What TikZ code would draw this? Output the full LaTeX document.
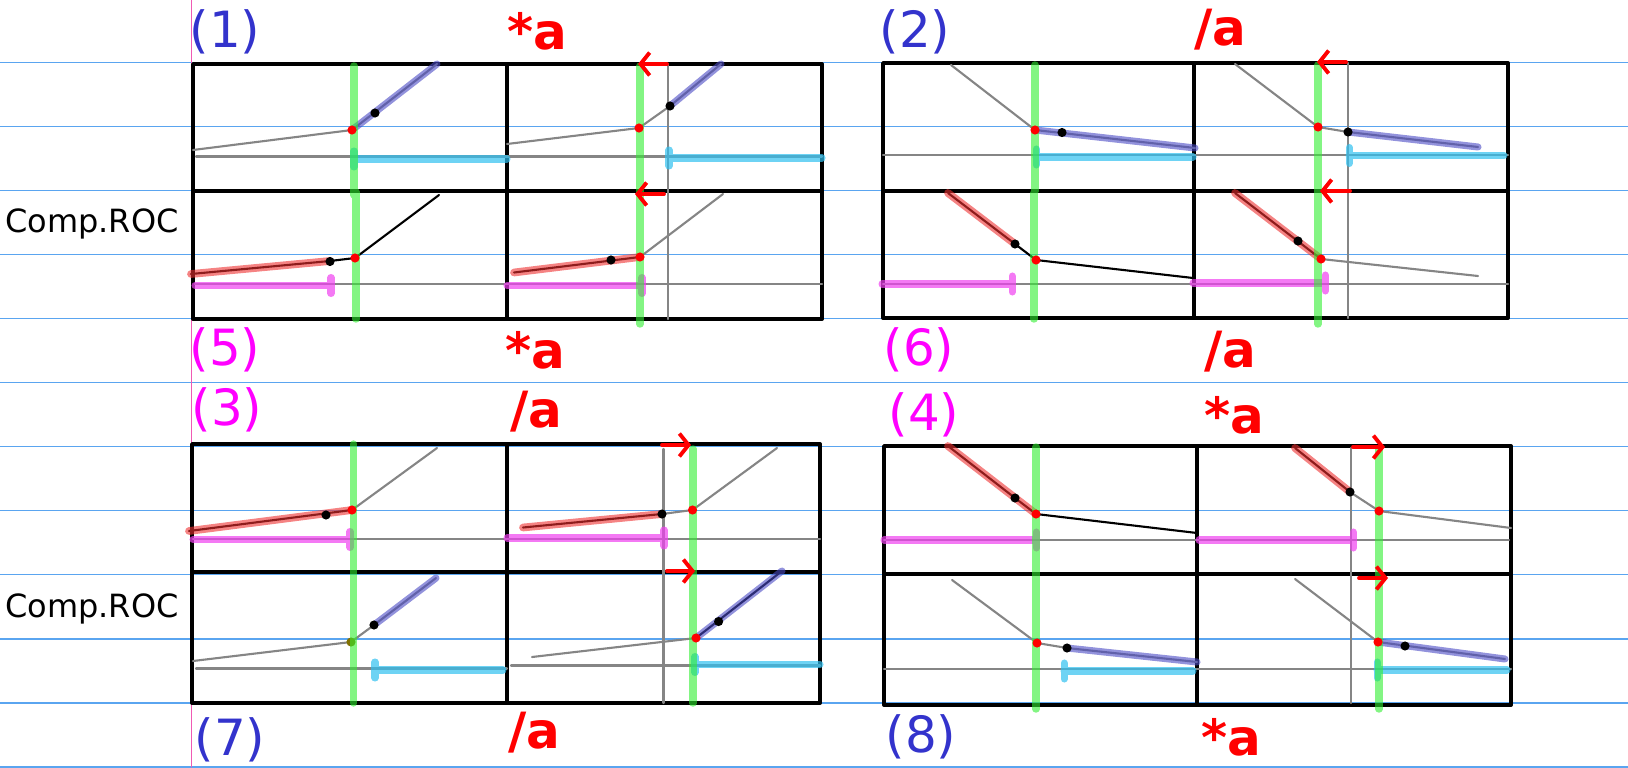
\documentclass[tikz,border=0pt]{standalone}
\usepackage{fontspec}
\setmainfont{DejaVu Sans}
\usetikzlibrary{arrows.meta}
\definecolor{raya}{HTML}{5AA5F0}
\definecolor{margen}{HTML}{F05AB4}
\definecolor{azulnum}{HTML}{3333CC}
\definecolor{rosanum}{HTML}{FF00FF}
\definecolor{rojo}{HTML}{FF0000}
\definecolor{hazul}{HTML}{4A4AC4}
\definecolor{hcian}{HTML}{30C0F0}
\definecolor{hrojo}{HTML}{EE3030}
\definecolor{hrosa}{HTML}{F040F0}
\definecolor{hverde}{HTML}{30EE30}
\definecolor{trazo}{HTML}{858585}
\definecolor{oliva}{HTML}{807000}

\begin{document}
\begin{tikzpicture}[x=0.01cm, y=-0.01cm, line cap=round, line join=round,
  raya/.style={draw=raya, line width=0.45pt},
  marco/.style={draw=black, line width=1.1pt, line cap=butt},
  gris/.style={draw=trazo, line width=0.6pt},
  negro/.style={draw=black, line width=0.6pt},
  azul/.style={draw=hazul, draw opacity=0.6, line width=2pt},
  cian/.style={draw=hcian, draw opacity=0.7, line width=2pt},
  rojoh/.style={draw=hrojo, draw opacity=0.6, line width=2.2pt},
  rosa/.style={draw=hrosa, draw opacity=0.7, line width=2pt},
  verde/.style={draw=hverde, draw opacity=0.6, line width=2.1pt},
  flecha/.style={draw=rojo, line width=1.1pt, -{Straight Barb[length=2.6pt,width=6.5pt]}},
  num/.style={inner sep=0pt, font=\fontsize{14.2}{17}\selectfont},
  op/.style={inner sep=0pt, text=rojo, font=\fontsize{14.2}{17}\selectfont\bfseries},
  roc/.style={inner sep=0pt, anchor=base west, font=\fontsize{9.1}{11}\selectfont}]
  \useasboundingbox (0,0) rectangle (1628,767);

  % las rayas del cuaderno y el margen
  \foreach \y in {62.7,126.7,...,766.7}
    \draw[raya] (0,\y) -- (1628,\y);
  \draw[margen, line width=0.3pt] (191.7,0) -- (191.7,767);

  % los marcos, cuatro grupos de cuatro
  \foreach \xa/\xb/\xc/\ya/\yb/\yc in {193/507/822/64/191/319, 883/1194/1508/63/191/318,
      192/507/820/444/572/703, 884/1197/1511/446/574/705}
    \draw[marco] (\xa,\ya) rectangle (\xb,\yb) (\xb,\ya) rectangle (\xc,\yb)
      (\xa,\yb) rectangle (\xb,\yc) (\xb,\yb) rectangle (\xc,\yc);

  % (1) y (5)
  \draw[gris] (196,156.5) -- (822,156.5) (195,284) -- (822,284) (668,64) -- (668,319);
  \draw[gris] (193,150) -- (352,130) -- (437,64);
  \draw[azul] (352,130) -- (437,64);
  \draw[gris] (507,144) -- (639,128) -- (670,106) -- (721,64);
  \draw[azul] (670,106) -- (721,64);
  \draw[cian] (354,159) -- (507,159) (354,151) -- (354,167);
  \draw[cian] (669,158) -- (822,158) (669,150) -- (669,166);
  \draw[negro] (191,274) -- (330,261) -- (355,258) -- (439,195);
  \draw[rojoh] (191,274) -- (330,261);
  \draw[rosa] (195,285.5) -- (331,285.5) (331,277.5) -- (331,293.5);
  \draw[negro] (514,272.5) -- (640,257);
  \draw[gris] (640,257) -- (723,194);
  \draw[rojoh] (514,272.5) -- (640,257);
  \draw[rosa] (507,285.5) -- (642,285.5) (642,277.5) -- (642,293.5);
  \draw[verde] (354,66) -- (354,195) (356,192) -- (356,319) (640,66) -- (640,324);
  \foreach \p in {(375,113),(670,106),(330,261.5),(611,260)}
    \fill \p circle (1.3pt);
  \foreach \p in {(352,130),(639,128),(355,258),(640,257)}
    \fill[rojo] \p circle (1.3pt);
  \draw[flecha] (667,64) -- (638,64);
  \draw[flecha] (664,194) -- (635,194);

  % (2) y (6)
  \draw[gris] (883,155) -- (1508,155) (883,284) -- (1508,284) (1348,63) -- (1348,318);
  \draw[gris] (951,65) -- (1035,130) -- (1195,148);
  \draw[azul] (1035,130) -- (1195,148);
  \draw[cian] (1036,157) -- (1193,157) (1036,149) -- (1036,165);
  \draw[gris] (1235,64) -- (1318,127) -- (1348,132) -- (1478,147);
  \draw[azul] (1348,132) -- (1478,147);
  \draw[cian] (1349,155.5) -- (1504,155.5) (1349,147.5) -- (1349,163.5);
  \draw[negro] (948,193) -- (1015,244) -- (1036,260) -- (1193,278);
  \draw[rojoh] (948,193) -- (1015,244);
  \draw[rosa] (882,284) -- (1012,284) (1012,276) -- (1012,292);
  \draw[negro] (1235,193) -- (1321,259);
  \draw[gris] (1321,259) -- (1478,276);
  \draw[rojoh] (1235,193) -- (1321,259);
  \draw[rosa] (1193,283) -- (1325,283) (1325,275) -- (1325,291);
  \draw[verde] (1035,65) -- (1035,191) (1034,193) -- (1034,319) (1318,65) -- (1318,324);
  \foreach \p in {(1062,132.5),(1348,132),(1015,244),(1298,241)}
    \fill \p circle (1.3pt);
  \foreach \p in {(1035,130),(1318,127),(1036,260),(1321,259)}
    \fill[rojo] \p circle (1.3pt);
  \draw[flecha] (1346,62) -- (1317,62);
  \draw[flecha] (1350,191) -- (1320,191);

  % (3) y (7)
  \draw[gris] (193,539) -- (820,539) (196,668.5) -- (507,668.5) (511,665.5) -- (820,665.5)
    (663.5,449) -- (663.5,703);
  \draw[negro] (189,531) -- (352,510);
  \draw[gris] (352,510) -- (437,448);
  \draw[rojoh] (189,531) -- (352,510);
  \draw[rosa] (193,539.5) -- (350,539.5) (350,531.5) -- (350,547.5);
  \draw[negro] (523,527.5) -- (662,514);
  \draw[gris] (662,514) -- (692.5,510) -- (777,448);
  \draw[rojoh] (523,527.5) -- (662,514);
  \draw[rosa] (507,538) -- (664,538) (664,530) -- (664,546);
  \draw[gris] (193,661) -- (351,642) -- (374,625) -- (436,578);
  \draw[azul] (374,625) -- (436,578);
  \draw[cian] (375,670) -- (503,670) (375,662) -- (375,678);
  \draw[gris] (532,657) -- (696,638);
  \draw[negro] (696,638) -- (782,571);
  \draw[azul] (696,638) -- (782,571);
  \draw[cian] (695,664.5) -- (820,664.5) (695,656.5) -- (695,672.5);
  \fill[oliva] (351,642) circle (1.3pt);
  \draw[verde] (353.5,444) -- (353.5,703) (693,449) -- (693,703);
  \foreach \p in {(326,515),(662,514),(374,625),(718.6,621.5)}
    \fill \p circle (1.3pt);
  \foreach \p in {(352,510),(692.5,510),(696,638)}
    \fill[rojo] \p circle (1.3pt);
  \draw[flecha] (662,445) -- (691,445);
  \draw[flecha] (667,571) -- (695,571);

  % (4) y (8)
  \draw[gris] (884,540) -- (1509,540) (884,669) -- (1511,669) (1351,448) -- (1351,703);
  \draw[negro] (948,446) -- (1015,498) -- (1036,514) -- (1197,533);
  \draw[rojoh] (948,446) -- (1036,514);
  \draw[rosa] (884,540) -- (1036,540) (1036,532) -- (1036,548);
  \draw[negro] (1295,448) -- (1350,492);
  \draw[gris] (1350,492) -- (1379,511) -- (1511,528);
  \draw[rojoh] (1295,448) -- (1350,492);
  \draw[rosa] (1199,540) -- (1353,540) (1353,532) -- (1353,548);
  \draw[gris] (952,580) -- (1037,643) -- (1067,648) -- (1197,662);
  \draw[azul] (1067,648) -- (1197,662);
  \draw[cian] (1064,671) -- (1193,671) (1064,663) -- (1064,679);
  \draw[gris] (1295,579) -- (1378,642) -- (1505,659);
  \draw[azul] (1378,642) -- (1505,659);
  \draw[cian] (1377,670) -- (1507,670) (1377,662) -- (1377,678);
  \draw[verde] (1036,447) -- (1036,709) (1379,449) -- (1379,709);
  \foreach \p in {(1015,498),(1350,492),(1067,648),(1405,646)}
    \fill \p circle (1.3pt);
  \foreach \p in {(1036,514),(1379,511),(1037,643),(1378,642)}
    \fill[rojo] \p circle (1.3pt);
  \draw[flecha] (1353,447) -- (1385,447);
  \draw[flecha] (1359,578) -- (1388,578);

  % los rotulos
  \node[roc] (roc1) at (4.5,232) {Comp.ROC};
  \node[roc] (roc2) at (4.5,617) {Comp.ROC};
  \node[num, text=azulnum] (n1) at (225,32) {(1)};
  \node[num, text=azulnum] (n2) at (915,32) {(2)};
  \node[num, text=rosanum] (n3) at (227,410) {(3)};
  \node[num, text=rosanum] (n4) at (924,415) {(4)};
  \node[num, text=rosanum] (n5) at (225,350) {(5)};
  \node[num, text=rosanum] (n6) at (919,350) {(6)};
  \node[num, text=azulnum] (n7) at (230,740) {(7)};
  \node[num, text=azulnum] (n8) at (921,737) {(8)};
  \node[op] (op1) at (537,31) {*a};
  \node[op] (op2) at (1220,30) {/a};
  \node[op] (op3) at (536,412) {/a};
  \node[op] (op4) at (1234,415) {*a};
  \node[op] (op5) at (535,350) {*a};
  \node[op] (op6) at (1230,352) {/a};
  \node[op] (op7) at (534,733) {/a};
  \node[op] (op8) at (1231,737) {*a};
\end{tikzpicture}
\end{document}
